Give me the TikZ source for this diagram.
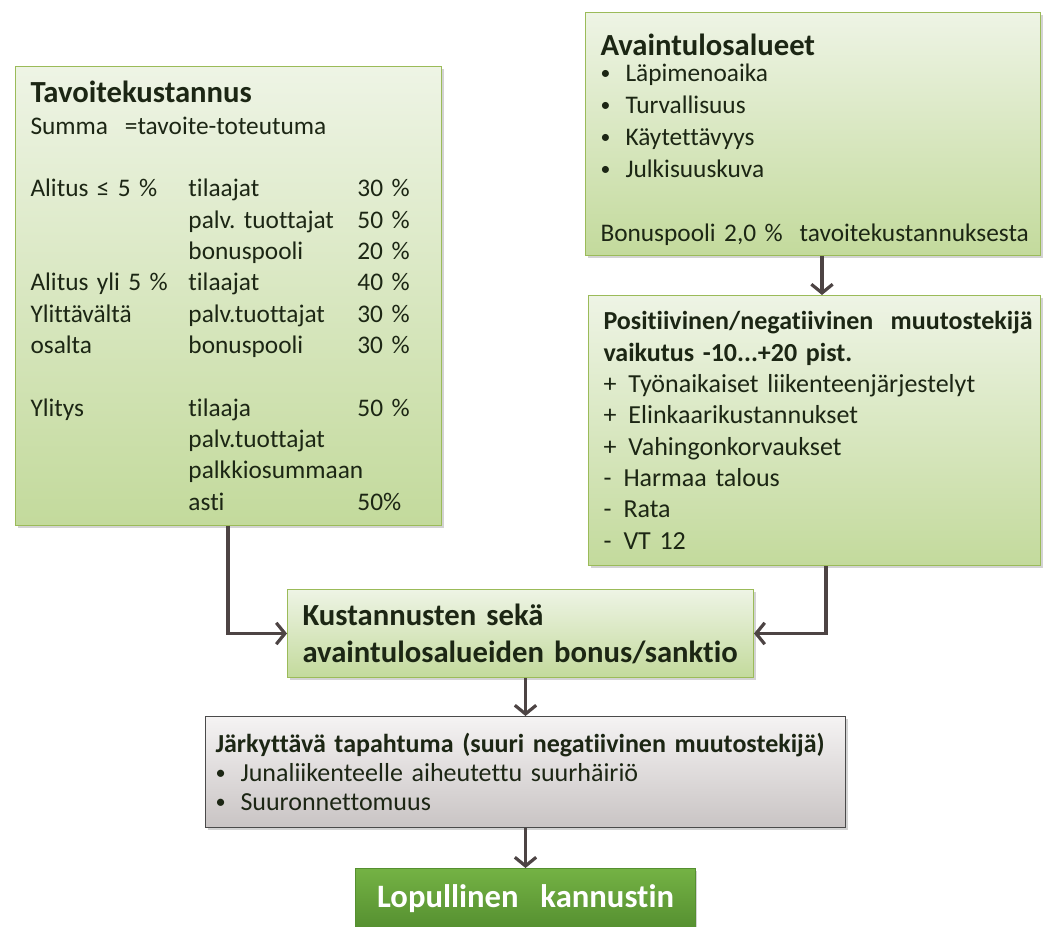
\documentclass[tikz,border=0pt]{standalone}
\usepackage{fontspec}
\setmainfont{Carlito}[Ligatures=NoCommon]
\usetikzlibrary{positioning,arrows.meta,calc,shadows}

\definecolor{boxtop}{HTML}{EEF4E5}
\definecolor{boxbot}{HTML}{C3DA9C}
\definecolor{boxline}{HTML}{9BBB59}
\definecolor{greytop}{HTML}{F5F3F3}
\definecolor{greybot}{HTML}{C9C4C4}
\definecolor{greyline}{HTML}{4A4A4A}
\definecolor{finaltop}{HTML}{74B244}
\definecolor{finalbot}{HTML}{558F30}
\definecolor{arrowcol}{HTML}{4D4444}
\definecolor{txtcol}{HTML}{1C2614}

\frenchspacing
\hyphenpenalty=10000
\exhyphenpenalty=10000

% three-column row of the cost box
\newcommand{\tkrow}[3]{\makebox[118.5pt][l]{#1}\makebox[126.75pt][l]{#2}#3}
\newcommand{\bul}{\makebox[18.75pt][l]{\raisebox{1.2pt}{\scalebox{0.78}{\textbullet}}}}
\newcommand{\plusitem}{\makebox[18.75pt][l]{+}}
\newcommand{\minusitem}{\makebox[15pt][l]{-}}

\begin{document}
\begin{tikzpicture}[
  x=0.75pt, y=-0.75pt,
  every node/.style={inner sep=2pt, text=txtcol},
  greenbox/.style={
    rectangle, draw=boxline, line width=0.75pt,
    top color=boxtop, bottom color=boxbot,
    drop shadow={opacity=0.35, shadow xshift=1.5pt, shadow yshift=-2pt},
    align=left, inner xsep=11.25pt, inner ysep=4pt,
    font=\fontsize{19}{23.5}\selectfont,
  },
  greybox/.style={greenbox, draw=greyline,
    top color=greytop, bottom color=greybot,
    inner xsep=7.5pt,
    font=\fontsize{19.5}{21.75}\selectfont,
  },
  finalbox/.style={greenbox, draw=finalbot,
    top color=finaltop, bottom color=finalbot,
    align=center, text=white,
    font=\fontsize{24.5}{28}\selectfont\bfseries,
  },
  arr/.style={-{Straight Barb[length=6.5pt,width=16pt]},
    draw=arrowcol, line width=2.4pt},
]
\useasboundingbox (0,0) rectangle (1043,927);

%---------- cost box (left) ----------
\node[greenbox, anchor=north west, text width=297pt, minimum height=344pt]
  (tavoite) at (15,66)
  {{\fontsize{23}{26}\selectfont\bfseries Tavoitekustannus}\\[0pt]
   Summa \ =tavoite-toteutuma\\[23.5pt]
   \tkrow{Alitus ≤ 5 \%}{tilaajat}{30 \%}\\
   \tkrow{}{palv. tuottajat}{50 \%}\\
   \tkrow{}{bonuspooli}{20 \%}\\
   \tkrow{Alitus yli 5 \%}{tilaajat}{40 \%}\\
   \tkrow{Ylittävältä}{palv.tuottajat}{30 \%}\\
   \tkrow{osalta}{bonuspooli}{30 \%}\\[23.5pt]
   \tkrow{Ylitys}{tilaaja}{50 \%}\\
   \tkrow{}{palv.tuottajat}{}\\
   \tkrow{}{palkkiosummaan}{}\\
   \tkrow{}{asti}{50\%}};

%---------- key result areas (top right) ----------
\node[greenbox, anchor=north west, text width=318.75pt, minimum height=182.25pt,
  font=\fontsize{19}{24}\selectfont]
  (avain) at (585,12)
  {{\fontsize{23}{26}\selectfont\bfseries Avaintulosalueet}\\[-4.5pt]
   \bul Läpimenoaika\\
   \bul Turvallisuus\\
   \bul Käytettävyys\\
   \bul Julkisuuskuva\\[24pt]
   \mbox{Bonuspooli 2,0 \% \ tavoitekustannuksesta}\par\vspace*{-8pt}};

%---------- modifier box (right) ----------
\node[greenbox, anchor=north west, text width=316.5pt, minimum height=202.5pt,
  font=\fontsize{19.5}{23.5}\selectfont]
  (muutos) at (588,295)
  {{\bfseries\mbox{Positiivinen/negatiivinen \ muutostekijä}\\
    vaikutus -10...+20 pist.}\\
   \plusitem Työnaikaiset liikenteenjärjestelyt\\
   \plusitem Elinkaarikustannukset\\
   \plusitem Vahingonkorvaukset\\
   \minusitem Harmaa talous\\
   \minusitem Rata\\
   \minusitem VT 12};

%---------- bonus / sanction ----------
\node[greenbox, anchor=north west, text width=327pt, minimum height=66pt,
  font=\fontsize{23}{27.75}\selectfont\bfseries]
  (kust) at (287,589)
  {Kustannusten sekä\\
   avaintulosalueiden bonus/sanktio};

%---------- shock event ----------
\node[greybox, below=28.5pt of kust, xshift=3.75pt,
  text width=465pt, minimum height=83.25pt]
  (jark)
  {{\bfseries Järkyttävä tapahtuma (suuri negatiivinen muutostekijä)}\\
   \bul Junaliikenteelle aiheutettu suurhäiriö\\
   \bul Suuronnettomuus};

%---------- final incentive ----------
\node[finalbox, below=30pt of jark, text width=232pt, minimum height=45.75pt]
  (lopullinen)
  {Lopullinen \ kannustin};

%---------- arrows ----------
\draw[arr] ($(tavoite.south west)+(213,0)$) |- (kust.west);
\draw[arr] ($(muutos.south west)+(238,0)$) |- (kust.east);
\draw[arr] ($(avain.south west)+(237,0)$) coordinate (av1) -- (av1 |- muutos.north);
\draw[arr] (jark.north |- kust.south) -- (jark.north);
\draw[arr] (jark.south) -- (lopullinen.north);

\end{tikzpicture}
\end{document}
